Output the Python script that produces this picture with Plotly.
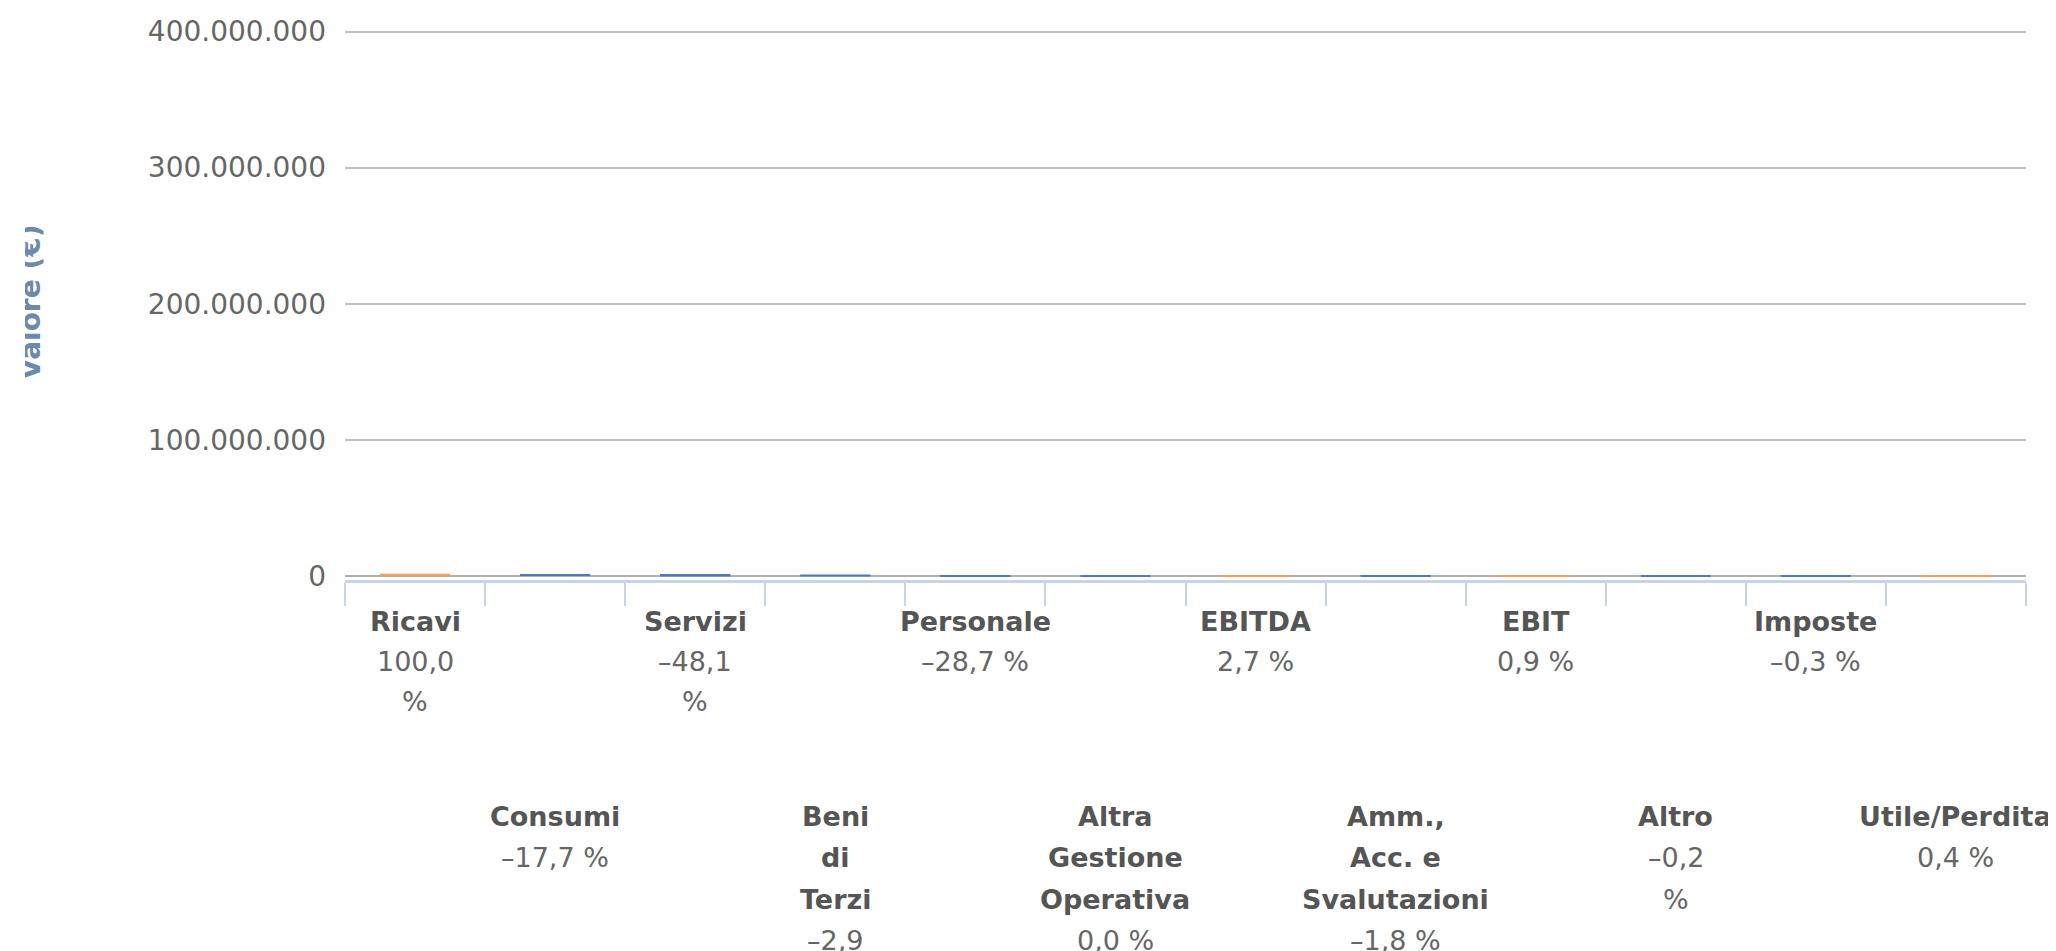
import plotly.graph_objects as go

# ---------------- data ----------------
categories = ["Ricavi", "Consumi", "Servizi", "Beni di Terzi", "Personale",
              "Altra Gestione Operativa", "EBITDA", "Amm., Acc. e Svalutazioni",
              "EBIT", "Altro", "Imposte", "Utile/Perdita"]
measures = ["absolute", "relative", "relative", "relative", "relative", "relative",
            "total", "relative", "total", "relative", "relative", "total"]
values_eur = [1000000, -177000, -481000, -29000, -287000, -150,
              0, -18000, 0, -2000, -3000, 0]
pct_labels = ["100,0 %", "–17,7 %", "–48,1 %", "–2,9 %", "–28,7 %", "0,0 %",
              "2,7 %", "–1,8 %", "0,9 %", "–0,2 %", "–0,3 %", "0,4 %"]
# wrapped label lines as shown on the axis
name_lines = [["Ricavi"], ["Consumi"], ["Servizi"], ["Beni", "di", "Terzi"],
              ["Personale"], ["Altra", "Gestione", "Operativa"], ["EBITDA"],
              ["Amm.,", "Acc. e", "Svalutazioni"], ["EBIT"], ["Altro"],
              ["Imposte"], ["Utile/Perdita"]]
pct_lines = [["100,0", "%"], ["–17,7 %"], ["–48,1", "%"], ["–2,9", "%"],
             ["–28,7 %"], ["0,0 %"], ["2,7 %"], ["–1,8 %"], ["0,9 %"],
             ["–0,2", "%"], ["–0,3 %"], ["0,4 %"]]
y_ticks = [0, 100000000, 200000000, 300000000, 400000000]
y_title = "Valore (€)"

ORANGE = "#f2a15f"
BLUE = "#4a7bbd"

# page body has an 8px margin: figure coordinates = window coordinates - 8
OFF = 8
W, H = 2056 - OFF, 951 - OFF
PLOT_L, PLOT_R = 345 - OFF, 2026 - OFF
PLOT_T, PLOT_B = 28 - OFF, 580 - OFF
PX_PER_UNIT = (576 - 31.5) / 400000000.0
Y_MAX = 400000000 + (31.5 - 28) / PX_PER_UNIT
Y_MIN = -(580 - 576) / PX_PER_UNIT

# running level of each waterfall bar (end value), for the thin bar outlines
levels, colors = [], []
run = 0
for v, m in zip(values_eur, measures):
    if m == "absolute":
        run = v
    elif m == "relative":
        run += v
    levels.append(run)
    colors.append(BLUE if m == "relative" else ORANGE)

fig = go.Figure()
fig.add_trace(go.Waterfall(
    x=categories, y=values_eur, measure=measures,
    text=pct_labels, textposition="none",
    width=0.5,
    connector=dict(visible=False),
    decreasing=dict(marker=dict(color=BLUE, line=dict(width=0))),
    increasing=dict(marker=dict(color=ORANGE, line=dict(width=0))),
    totals=dict(marker=dict(color=ORANGE, line=dict(width=0))),
    hoverinfo="x+y+text",
))
# the bars are far below one pixel tall at this scale: draw their edge as a line
fig.add_trace(go.Scatter(
    x=categories, y=levels, mode="markers", hoverinfo="skip",
    marker=dict(symbol="line-ew", size=50, color=colors,
                line=dict(color=colors, width=2)),
))

font_family = "DejaVu Sans, Verdana, sans-serif"

annotations = []
row_starts = [621 - OFF, 816 - OFF]
pitches = [40, 41.5]
for i, cat in enumerate(categories):
    start = row_starts[i % 2]
    pitch = pitches[i % 2]
    lines = [(t, True) for t in name_lines[i]] + [(t, False) for t in pct_lines[i]]
    for k, (t, bold) in enumerate(lines):
        ypix = start + k * pitch
        annotations.append(dict(
            x=cat, xref="x", y=0, yref="paper", yanchor="middle",
            yshift=-(ypix - PLOT_B), showarrow=False,
            text=f"<b>{t}</b>" if bold else t,
            font=dict(family=font_family, size=27,
                      color="#555555" if bold else "#666666"),
        ))

# y-axis title (its left part is clipped in the original)
annotations.append(dict(
    x=0, xref="paper", xshift=-(PLOT_L - 22), xanchor="center",
    y=0.5, yref="paper", yshift=2,
    textangle=-90, showarrow=False, text=f"<b>{y_title}</b>",
    font=dict(family=font_family, size=28, color="#6e8aab"),
))
annotations.append(dict(
    x=0, xref="paper", xshift=(25 - OFF) - PLOT_L, xanchor="right",
    y=0.5, yref="paper", yanchor="middle", showarrow=False, text=" ",
    width=40, height=260, bgcolor="white", borderpad=0, borderwidth=0,
))

fig.update_layout(
    width=W, height=H,
    margin=dict(l=PLOT_L, r=W - PLOT_R, t=PLOT_T, b=H - PLOT_B, autoexpand=False),
    paper_bgcolor="white", plot_bgcolor="white",
    separators=",.",
    showlegend=False,
    font=dict(family=font_family, size=28, color="#666666"),
    annotations=annotations,
    xaxis=dict(
        type="category", range=[-0.5, len(categories) - 0.5],
        showticklabels=False, tickson="boundaries", ticks="outside",
        ticklen=23, tickwidth=2, tickcolor="#c8d4e6",
        showline=True, linecolor="#c8d4e6", linewidth=3,
        showgrid=False, zeroline=False,
    ),
    yaxis=dict(
        range=[Y_MIN, Y_MAX], tickvals=y_ticks, tickformat=",d",
        showgrid=True, gridcolor="#bdbdbd", gridwidth=2,
        zeroline=True, zerolinecolor="#b0b0b0", zerolinewidth=2,
        tickfont=dict(size=28, color="#666666", family=font_family),
        ticklabelstandoff=18, showline=False, ticks="",
    ),
)

fig.write_html("out.html")
